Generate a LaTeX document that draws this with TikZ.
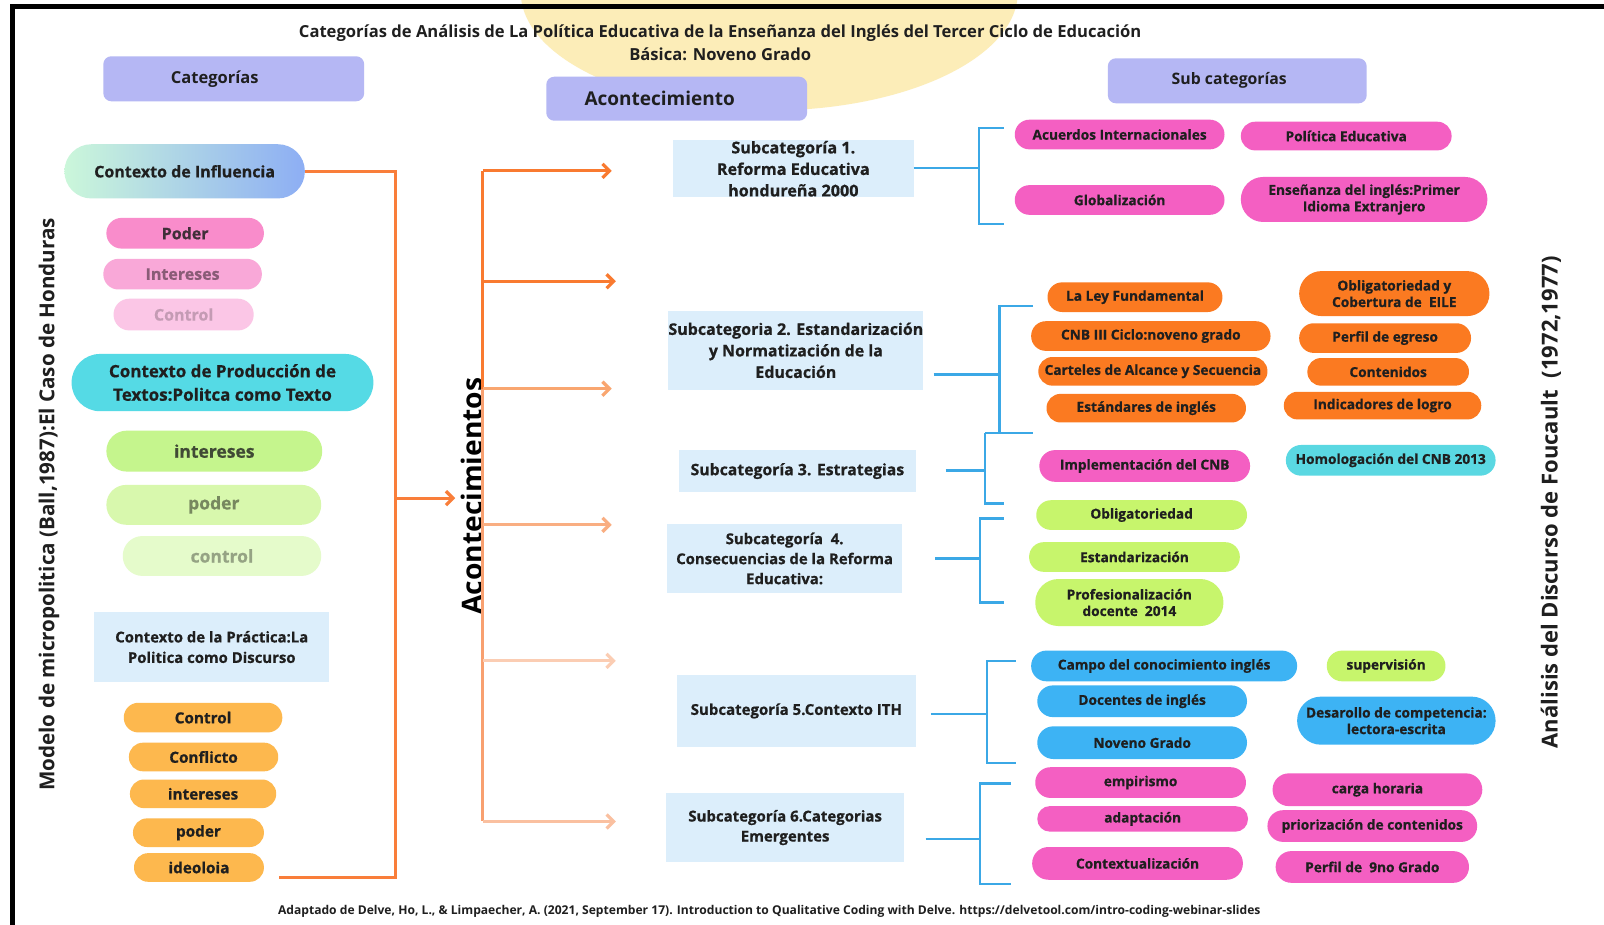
\documentclass[tikz,border=0pt]{standalone}
\usepackage{fontspec}
\setmainfont{Open Sans}
\usetikzlibrary{arrows.meta}
\definecolor{lav}{HTML}{B5B7F4}
\definecolor{ylw}{HTML}{FCEDB8}
\definecolor{gA}{HTML}{CBF7DA}
\definecolor{gB}{HTML}{8DAEF4}
\definecolor{pk1}{HTML}{F98CCB}
\definecolor{pk2}{HTML}{F9A8D8}
\definecolor{pk3}{HTML}{FBC6E6}
\definecolor{cyn}{HTML}{55DAE5}
\definecolor{gr1}{HTML}{C5F58D}
\definecolor{gr2}{HTML}{D8F8AD}
\definecolor{gr3}{HTML}{E5FBCB}
\definecolor{lbx}{HTML}{DCEEFB}
\definecolor{org1}{HTML}{FDB84E}
\definecolor{oline}{HTML}{F97E3A}
\definecolor{mag}{HTML}{F45FC2}
\definecolor{orp}{HTML}{FB7A21}
\definecolor{lime}{HTML}{C7F56C}
\definecolor{bpl}{HTML}{3DB3F4}
\definecolor{cyn2}{HTML}{5AD8E2}
\definecolor{bbr}{HTML}{3BA8E6}
\definecolor{txt}{HTML}{1F1F1F}
\definecolor{aA}{HTML}{F97A30}
\definecolor{aB}{HTML}{F9A670}
\definecolor{aC}{HTML}{F9AE82}
\definecolor{aD}{HTML}{FBCDB3}
\definecolor{aE}{HTML}{FAC0A0}
\definecolor{vC}{HTML}{F8A070}
\newcommand\fsz[2]{\fontsize{#1}{#2}\selectfont\bfseries}
\newcommand\fsx[2]{\fontsize{#1}{#2}\selectfont\bfseries\addfontfeatures{FakeBold=0.7}}
\newcommand\pill[7]{\node[pillbase,#6,minimum width={1.023pt*(#4-#2)},minimum height={1.023pt*(#5-#3)},rounded corners={0.5115pt*(#5-#3)-0.2pt}] (#1) at ({(#2+#4)/2},{(#3+#5)/2}) {#7};}
\newcommand\boxn[7]{\node[pillbase,fill=lbx,#6,minimum width={1.023pt*(#4-#2)},minimum height={1.023pt*(#5-#3)}] (#1) at ({(#2+#4)/2},{(#3+#5)/2}) {#7};}
\tikzset{
  pillbase/.style={draw=none,inner sep=0pt,align=center,text=txt},
  rp/.style={font=\fsx{13.7}{16.5}},
  hdrbox/.style={fill=lav,rounded corners=8pt},
  oline/.style={draw=oline,line width=3pt},
  oarrow/.style={line width=3.2pt,-{Straight Barb[length=7pt,width=14pt]}},
  bline/.style={draw=bbr,line width=2.4pt},
}
\begin{document}
\begin{tikzpicture}[x=1.023pt,y=-1.023pt]
\useasboundingbox (0,0) rectangle (1568,904);
\fill[white] (0,0) rectangle (1568,904);
% yellow blob
\fill[ylw] (752,-8) ellipse [x radius=243, y radius=116];
% frame
\fill[black] (10,4) rectangle (1568,9);
\fill[black] (10,4) rectangle (15,904);
% title
\node[align=center,text=txt,font=\fsz{16.6}{23.5}] (title) at (704,42)
  {Categorías de Análisis de La Política Educativa de la Enseñanza del Inglés del Tercer Ciclo de Educación\\Básica: Noveno Grado};
% headers
\boxn{cat}{101}{55}{356}{99}{hdrbox,font=\fsz{16.5}{19}}{\raisebox{-3pt}{Categorías}\hspace*{38pt}}
\boxn{acn}{534}{75}{789}{118}{hdrbox,font=\fsz{19}{22}}{\raisebox{-1pt}{Acontecimiento}\hspace*{34pt}}
\boxn{subc}{1083}{57}{1336}{101}{hdrbox,font=\fsz{15.8}{19}}{\raisebox{-3pt}{Sub categorías}\hspace*{16pt}}
% left column
\pill{ctxinf}{63}{141}{298}{194}{left color=gA,right color=gB,font=\fsx{16}{19}}{Contexto de Influencia}
\pill{pod}{104}{213}{258}{243}{fill=pk1,font=\fsx{16}{19},text=txt!85!pk1}{Poder}
\pill{int}{101}{253}{256}{283}{fill=pk2,font=\fsx{16}{19},text=black!45!pk2}{Intereses}
\pill{ctl}{111}{292}{248}{323}{fill=pk3,font=\fsx{16}{19},text=black!22!pk3}{Control}
\pill{prod}{70}{346}{365}{402}{fill=cyn,font=\fsx{17}{23.5}}{Contexto de Producción de\\Textos:Politca como Texto}
\pill{gint}{104}{421}{315}{461}{fill=gr1,font=\fsx{17.5}{20},text=txt!80!gr1}{intereses}
\pill{gpod}{104}{474}{314}{513}{fill=gr2,font=\fsx{17.5}{20},text=black!45!gr2}{poder}
\pill{gctl}{120}{524}{314}{563}{fill=gr3,font=\fsx{17.5}{20},text=black!35!gr3}{control}
\boxn{prac}{92}{598}{322}{667}{font=\fsx{14.9}{20.5}}{Contexto de la Práctica:La\\Politica como Discurso}
\pill{oc}{121}{687}{276}{716}{fill=org1,font=\fsx{15.3}{18}}{Control}
\pill{ocf}{126}{726}{272}{754}{fill=org1,font=\fsx{15.3}{18}}{Conflicto}
\pill{oi}{127}{762}{270}{790}{fill=org1,font=\fsx{15.3}{18}}{intereses}
\pill{op}{130}{800}{258}{828}{fill=org1,font=\fsx{15.3}{18}}{poder}
\pill{oid}{131}{834}{258}{862}{fill=org1,font=\fsx{15.3}{18}}{ideoloia}
% vertical texts
\node[rotate=90,text=txt,font=\fsz{20.6}{24}] (modelo) at (48,493) {Modelo de micropolitica (Ball,1987):El Caso de Honduras};
\node[rotate=90,text=black,font=\fsz{28.2}{31}] (acts) at (461,485) {Acontecimientos};
\node[rotate=90,text=txt,font=\fsz{22}{24}] (fouc) at (1516,491) {Análisis del Discurso de Foucault\hspace{0.55em}(1972,1977)};
% left orange connector
\coordinate (lvb) at (387,858);
\coordinate (lfree) at (273,858);
\coordinate (la) at (387,487);
\draw[oline] (ctxinf.east) -| (lvb) -- (lfree);
\draw[oline,oarrow,draw=oline] (la) -- ([xshift=-2pt]acts.north |- la);
% subcategory boxes
\boxn{s1}{658}{137}{893}{193}{font=\fsx{16.2}{21.5}}{Subcategoría 1.\\Reforma Educativa\\hondureña 2000}
\boxn{s2}{656}{304}{900}{381}{font=\fsx{16}{21.5}}{Subcategoria 2. Estandarización\\y Normatización de la\\Educación}
\boxn{s3}{664}{440}{895}{481}{font=\fsx{15.8}{18}}{Subcategoría 3. Estrategias}
\boxn{s4}{652}{512}{882}{580}{font=\fsx{14.9}{20}}{Subcategoría~~4.\\Consecuencias de la Reforma\\Educativa:}
\boxn{s5}{662}{660}{895}{730}{font=\fsx{15}{18}}{Subcategoría 5.Contexto ITH}
\boxn{s6}{651}{775}{884}{843}{font=\fsx{15}{20}}{Subcategoría 6.Categorias\\Emergentes}
% right orange bracket with arrows
\coordinate (r1) at (472,167);
\coordinate (r2) at (472,275);
\coordinate (r3) at (472,380);
\coordinate (r4) at (472,513);
\coordinate (r5) at (472,646);
\coordinate (r6) at (472,803);
\coordinate (t1) at (598,167);
\coordinate (t2) at (602,275);
\coordinate (t3) at (598,380);
\coordinate (t4) at (598,513);
\coordinate (t5) at (602,646);
\coordinate (t6) at (602,803);
\draw[draw=aA,line width=3pt] (r1) -- (r3);
\draw[draw=vC,line width=3pt] (r3) -- (r6);
\draw[oarrow,draw=aA] (r1) -- (t1);
\draw[oarrow,draw=aA] (r2) -- (t2);
\draw[oarrow,draw=aB] (r3) -- (t3);
\draw[oarrow,draw=aC] (r4) -- (t4);
\draw[oarrow,draw=aD] (r5) -- (t5);
\draw[oarrow,draw=aE] (r6) -- (t6);
% blue brackets
\coordinate (b1m) at (957,164);
\draw[bline] (s1.east |- b1m) -- (b1m);
\draw[bline] (981,125) -- (957,125) -- (957,219) -- (981,219);
\coordinate (b2m) at (977,366);
\draw[bline] ([xshift=10pt]s2.east |- b2m) -- (b2m);
\draw[bline] (1010,299) -- (977,299) -- (977,423) -- (963,423) -- (1010,423);
\coordinate (b3m) at (963,460);
\draw[bline] ([xshift=30pt]s3.east |- b3m) -- (b3m);
\draw[bline] (963,423) -- (963,492) -- (981,492);
\coordinate (b4m) at (958,546);
\draw[bline] ([xshift=33pt]s4.east |- b4m) -- (b4m);
\draw[bline] (981,507) -- (958,507) -- (958,589) -- (981,589);
\coordinate (b5m) at (965,698);
\draw[bline] ([xshift=15pt]s5.east |- b5m) -- (b5m);
\draw[bline] (993,646) -- (965,646) -- (965,746) -- (993,746);
\coordinate (b6m) at (958,820);
\draw[bline] ([xshift=21pt]s6.east |- b6m) -- (b6m);
\draw[bline] (988,766) -- (958,766) -- (958,864) -- (988,864);
% right pills
\pill{acu}{992}{117}{1197}{146}{fill=mag,rp}{Acuerdos Internacionales}
\pill{pol}{1213}{119}{1419}{147}{fill=mag,rp}{Política Educativa}
\pill{glo}{992}{181}{1197}{210}{fill=mag,rp}{Globalización}
\pill{ens}{1213}{173}{1454}{217}{fill=mag,rp}{Enseñanza del inglés:Primer\\Idioma Extranjero}
\pill{ley}{1024}{276}{1195}{305}{fill=orp,rp}{La Ley Fundamental}
\pill{cnb}{1008}{314}{1242}{343}{fill=orp,rp}{CNB III Ciclo:noveno grado}
\pill{car}{1015}{349}{1239}{377}{fill=orp,rp}{Carteles de Alcance y Secuencia}
\pill{est}{1023}{385}{1218}{413}{fill=orp,rp}{Estándares de inglés}
\pill{obc}{1270}{265}{1456}{309}{fill=orp,rp}{Obligatoriedad y\\Cobertura de~~EILE}
\pill{per}{1270}{316}{1438}{345}{fill=orp,rp}{Perfil de egreso}
\pill{con}{1278}{350}{1436}{377}{fill=orp,rp}{Contenidos}
\pill{ind}{1255}{383}{1448}{410}{fill=orp,rp}{Indicadores de logro}
\pill{imp}{1016}{440}{1222}{471}{fill=mag,rp}{Implementación del CNB}
\pill{hom}{1257}{435}{1462}{465}{fill=cyn2,rp}{Homologación del CNB 2013}
\pill{obl}{1013}{489}{1219}{518}{fill=lime,rp}{Obligatoriedad}
\pill{esz}{1006}{530}{1212}{559}{fill=lime,rp}{Estandarización}
\pill{pro}{1012}{566}{1196}{612}{fill=lime,rp}{Profesionalización\\docente~~2014}
\pill{cam}{1008}{636}{1268}{666}{fill=bpl,rp}{Campo del conocimiento inglés}
\pill{sup}{1297}{636}{1413}{666}{fill=lime,rp}{supervisión}
\pill{doc}{1014}{670}{1219}{701}{fill=bpl,rp}{Docentes de inglés}
\pill{nov}{1014}{710}{1219}{742}{fill=bpl,rp}{Noveno Grado}
\pill{des}{1268}{681}{1462}{728}{fill=bpl,rp}{Desarollo de competencia:\\lectora-escrita}
\pill{emp}{1012}{750}{1218}{780}{fill=mag,rp}{empirismo}
\pill{ada}{1014}{788}{1220}{813}{fill=mag,rp}{adaptación}
\pill{ctx}{1009}{828}{1215}{860}{fill=mag,rp}{Contextualización}
\pill{cgh}{1244}{756}{1449}{788}{fill=mag,rp}{carga horaria}
\pill{pri}{1239}{792}{1444}{823}{fill=mag,rp}{priorización de contenidos}
\pill{p9}{1247}{832}{1436}{863}{fill=mag,rp}{Perfil de~~9no Grado}
% footer
\node[text=txt,font=\fsz{12.1}{14}] (foot) at (752,891) {Adaptado de Delve, Ho, L., \& Limpaecher, A. (2021, September 17). Introduction to Qualitative Coding with Delve. https://delvetool.com/intro-coding-webinar-slides};
\end{tikzpicture}
\end{document}
